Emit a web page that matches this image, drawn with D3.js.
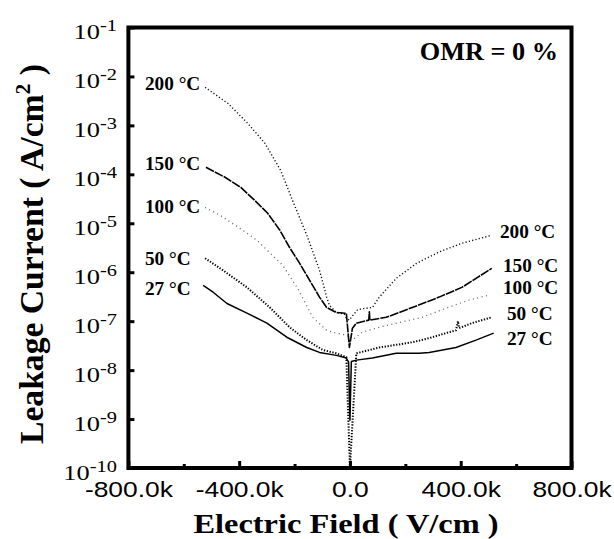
<!DOCTYPE html>
<html>
<head>
<meta charset="utf-8">
<script src="https://cdn.jsdelivr.net/npm/d3@7"></script>
<style>
  html, body { margin: 0; padding: 0; background: #fff; }
  svg { display: block; }
</style>
</head>
<body>
<svg id="chart" width="614" height="539"></svg>
<script>
// Leakage current density vs. electric field, OMR = 0 %, at five temperatures.

// Field values (V/cm) and current densities (A/cm²) for each temperature.
const field200 = [-523e3, -440e3, -369e3, -307e3, -250e3, -207e3, -153e3, -110e3, -84e3, -74e3, -49e3, -20e3, -13e3, -2e3, 5e3, 27e3, 45e3, 81e3, 106e3, 167e3, 239e3, 322e3, 404e3, 512e3];
const current200 = [6.0e-3, 2.8e-3, 1.1e-3, 4.3e-4, 1.2e-4, 2.9e-5, 5.2e-6, 1.1e-6, 3.1e-7, 2.1e-7, 1.5e-7, 1.4e-7, 1.15e-7, 1.05e-7, 1.2e-7, 1.7e-7, 1.8e-7, 1.9e-7, 3.1e-7, 7.5e-7, 1.5e-6, 2.6e-6, 3.9e-6, 5.7e-6];

const field150 = [-520e3, -451e3, -394e3, -343e3, -297e3, -253e3, -218e3, -182e3, -146e3, -110e3, -84e3, -49e3, -13e3, -2e3, 9e3, 23e3, 68e3, 70e3, 72e3, 131e3, 225e3, 322e3, 404e3, 512e3];
const current150 = [1.39e-4, 8.7e-5, 5.4e-5, 2.9e-5, 1.6e-5, 7.2e-6, 3.2e-6, 1.53e-6, 6.9e-7, 3.1e-7, 1.9e-7, 1.5e-7, 1.45e-7, 2.9e-8, 7.2e-8, 9.1e-8, 1.05e-7, 1.55e-7, 1.05e-7, 1.2e-7, 1.9e-7, 3.1e-7, 4.9e-7, 1.2e-6];

const field100 = [-523e3, -469e3, -387e3, -336e3, -243e3, -189e3, -153e3, -135e3, -84e3, -49e3, -13e3, 9e3, 45e3, 106e3, 167e3, 261e3, 347e3, 430e3, 502e3];
const current100 = [2.1e-5, 1.46e-5, 7.2e-6, 4.5e-6, 1.39e-6, 4.7e-7, 1.9e-7, 1.2e-7, 6.5e-8, 5.7e-8, 5.2e-8, 4.1e-8, 6.0e-8, 7.5e-8, 9.1e-8, 1.2e-7, 1.84e-7, 2.7e-7, 3.4e-7];

const field50 = [-523e3, -459e3, -372e3, -289e3, -218e3, -156e3, -99e3, -49e3, -13e3, 0, 23e3, 106e3, 225e3, 286e3, 347e3, 383e3, 390e3, 394e3, 440e3, 512e3];
const current50 = [1.93e-6, 1.1e-6, 4.9e-7, 1.9e-7, 7.5e-8, 4.1e-8, 2.6e-8, 2.2e-8, 1.84e-8, 1e-10, 2.2e-8, 2.9e-8, 3.7e-8, 4.5e-8, 5.7e-8, 6.5e-8, 1.0e-7, 7.2e-8, 9.1e-8, 1.2e-7];

const field27 = [-530e3, -494e3, -444e3, -372e3, -300e3, -228e3, -156e3, -110e3, -49e3, -13e3, -5e3, 0, 5e3, 23e3, 81e3, 167e3, 250e3, 286e3, 383e3, 455e3, 519e3];
const current27 = [5.4e-7, 3.9e-7, 2.3e-7, 1.46e-7, 9.1e-8, 4.7e-8, 2.9e-8, 2.3e-8, 2.0e-8, 1.76e-8, 1.46e-8, 9.5e-10, 1.5e-8, 1.6e-8, 1.76e-8, 2.2e-8, 2.2e-8, 2.3e-8, 2.9e-8, 4.1e-8, 5.7e-8];

const temperatureLabels = ["200 °C", "150 °C", "100 °C", "50 °C", "27 °C"];

const xTickValues = [-800e3, -400e3, 0, 400e3, 800e3];
const xTickLabels = ["-800.0k", "-400.0k", "0.0", "400.0k", "800.0k"];
const xMinorTickValues = [-600e3, -200e3, 200e3, 600e3];
const yTickExponents = [-1, -2, -3, -4, -5, -6, -7, -8, -9, -10];

// ---- layout ----
const svg = d3.select("#chart");
const plot = { left: 128.4, right: 571.5, top: 27.5, bottom: 468 };
const stretch = 1.2;           // text is drawn slightly wide
const serif = "'Liberation Serif', 'Times New Roman', serif";
const sans = "'Liberation Sans', Arial, sans-serif";

// label anchor points (pixels): left column and right column of curve names
const leftLabelPos = [[145, 90], [145, 170], [145, 213], [145, 265], [145, 295]];
const rightLabelPos = [[500, 238], [503, 272], [503, 294], [507, 320], [507, 345]];

const x = d3.scaleLinear().domain([-800e3, 800e3]).range([plot.left, plot.right]);
const y = d3.scaleLog().domain([1e-10, 1e-1]).range([plot.bottom, plot.top]);

const series = [
  { label: temperatureLabels[0], xs: field200, ys: current200, width: 1.4, dash: "1.2,2.2", color: "#111" },
  { label: temperatureLabels[1], xs: field150, ys: current150, width: 1.6, dash: "9,1", color: "#000" },
  { label: temperatureLabels[2], xs: field100, ys: current100, width: 1.3, dash: "1,3.5", color: "#666" },
  { label: temperatureLabels[3], xs: field50, ys: current50, width: 2.0, dash: "1.3,1.6", color: "#000" },
  { label: temperatureLabels[4], xs: field27, ys: current27, width: 1.5, dash: null, color: "#000" }
];

const line = d3.line().x(d => x(d[0])).y(d => y(d[1]));

// curves
const curves = svg.append("g").attr("fill", "none");
series.forEach(s => {
  const path = curves.append("path")
    .datum(d3.zip(s.xs, s.ys))
    .attr("d", line)
    .attr("stroke", s.color)
    .attr("stroke-width", s.width)
    .attr("stroke-linejoin", "round");
  if (s.dash) path.attr("stroke-dasharray", s.dash);
});

// axes (ticks point inward)
const xAxis = svg.append("g")
  .attr("transform", `translate(0,${plot.bottom})`)
  .call(d3.axisBottom(x).tickValues(xTickValues).tickSize(-7).tickPadding(13.4)
    .tickFormat((d, i) => xTickLabels[i]));
xAxis.select(".domain").remove();
xAxis.selectAll("line").attr("stroke", "#000").attr("stroke-width", 3);
xAxis.selectAll("text")
  .attr("fill", "#000")
  .attr("font-family", sans)
  .attr("font-size", 22)
  .attr("transform", `scale(${stretch},1)`);

const xMinor = svg.append("g")
  .attr("transform", `translate(0,${plot.bottom})`)
  .call(d3.axisBottom(x).tickValues(xMinorTickValues).tickSize(-4).tickFormat(""));
xMinor.select(".domain").remove();
xMinor.selectAll("line").attr("stroke", "#000").attr("stroke-width", 3);

const yAxis = svg.append("g")
  .attr("transform", `translate(${plot.left},0)`)
  .call(d3.axisLeft(y).tickValues(yTickExponents.map(e => Math.pow(10, e))).tickSize(-6).tickFormat(""));
yAxis.select(".domain").remove();
yAxis.selectAll("line").attr("stroke", "#000").attr("stroke-width", 3);
yAxis.selectAll(".tick text").each(function (d) {
  const t = d3.select(this)
    .attr("x", -11.5 / stretch)
    .attr("dy", "0.5em")
    .attr("fill", "#000")
    .attr("font-family", serif)
    .attr("font-size", 22)
    .attr("text-anchor", "end")
    .attr("transform", `scale(${stretch},1)`);
  t.text("10");
  t.append("tspan")
    .attr("font-size", 17)
    .attr("dy", -8)
    .text(String(Math.round(Math.log10(d))));
});

// frame
svg.append("rect")
  .attr("x", plot.left).attr("y", plot.top)
  .attr("width", plot.right - plot.left).attr("height", plot.bottom - plot.top)
  .attr("fill", "none").attr("stroke", "#000").attr("stroke-width", 4);

function addText(g, txt, px, py, opts) {
  return g.append("text")
    .attr("transform", `translate(${px},${py}) scale(${opts.sx || 1},1)`)
    .attr("font-family", opts.family)
    .attr("font-size", opts.size)
    .attr("font-weight", opts.weight || "normal")
    .attr("text-anchor", opts.anchor || "start")
    .attr("fill", "#000")
    .text(txt);
}

// temperature labels at both ends of the curves
const labelFont = { family: serif, size: 18, weight: "bold", sx: 1.07 };
const labels = svg.append("g");
series.forEach((s, i) => {
  addText(labels, s.label, leftLabelPos[i][0], leftLabelPos[i][1], labelFont);
  addText(labels, s.label, rightLabelPos[i][0], rightLabelPos[i][1], labelFont);
});

// OMR annotation
addText(svg, "OMR = 0 %", 558, 60, { family: serif, size: 25, weight: "bold", anchor: "end", sx: 1.05 });

// axis titles
addText(svg, "Electric Field ( V/cm )", 346, 533, { family: serif, size: 27, weight: "bold", anchor: "middle", sx: 1.2 });

const yTitle = svg.append("text")
  .attr("transform", `translate(43,254) scale(${stretch},1) rotate(-90)`)
  .attr("font-family", serif)
  .attr("font-size", 28)
  .attr("font-weight", "bold")
  .attr("text-anchor", "middle")
  .attr("textLength", 380)
  .attr("lengthAdjust", "spacingAndGlyphs")
  .attr("fill", "#000");
yTitle.append("tspan").text("Leakage Current ( A/cm");
yTitle.append("tspan").attr("font-size", 18).attr("dy", -11).text("2");
yTitle.append("tspan").attr("dy", 11).text(" )");
</script>
</body>
</html>
